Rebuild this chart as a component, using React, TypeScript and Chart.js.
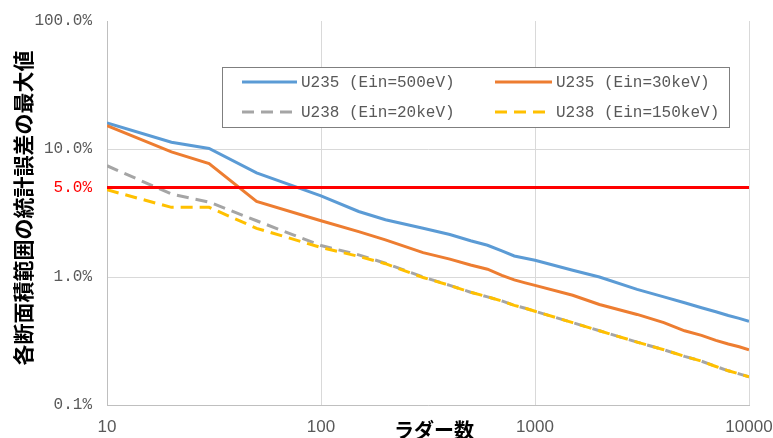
import React, { useEffect, useRef } from "react";
import { Chart, registerables } from "chart.js";

Chart.register(...registerables);

const ladderCounts = [10, 20, 30, 50, 100, 150, 200, 300, 400, 500, 600, 700, 800, 900, 1000, 1500, 2000, 3000, 4000, 5000, 6000, 7000, 8000, 9000, 10000];
const u235_500eV = [16.0, 11.3, 10.1, 6.5, 4.3, 3.25, 2.8, 2.4, 2.15, 1.92, 1.77, 1.6, 1.46, 1.4, 1.35, 1.13, 1.0, 0.8, 0.7, 0.63, 0.575, 0.535, 0.5, 0.475, 0.45];
const u235_30keV = [15.2, 9.5, 7.7, 3.9, 2.75, 2.26, 1.95, 1.55, 1.38, 1.24, 1.15, 1.03, 0.95, 0.9, 0.86, 0.72, 0.61, 0.51, 0.44, 0.38, 0.35, 0.32, 0.3, 0.285, 0.27];
const u238_20keV = [7.4, 4.45, 3.85, 2.75, 1.76, 1.49, 1.28, 1.0, 0.86, 0.76, 0.7, 0.65, 0.6, 0.57, 0.54, 0.44, 0.38, 0.31, 0.27, 0.24, 0.22, 0.2, 0.185, 0.175, 0.166];
const u238_150keV = [4.8, 3.5, 3.5, 2.4, 1.7, 1.45, 1.27, 0.99, 0.86, 0.76, 0.7, 0.65, 0.6, 0.57, 0.54, 0.44, 0.38, 0.31, 0.27, 0.24, 0.22, 0.2, 0.185, 0.175, 0.166];
const seriesNames = ["U235 (Ein=500eV)", "U235 (Ein=30keV)", "U238 (Ein=20keV)", "U238 (Ein=150keV)"];
const thresholdValue = 5;
const thresholdRange = [10, 10000];
const yTickValues = [0.1, 1, 5, 10, 100];
const xTickValues = [10, 100, 1000, 10000];
const yAxisTitle = "各断面積範囲の統計誤差の最大値";
const xAxisTitle = "ラダー数";

const seriesStyles = [
  { color: "#5b9bd5", dash: [] as number[] },
  { color: "#ed7d31", dash: [] as number[] },
  { color: "#a5a5a5", dash: [12, 7] },
  { color: "#ffc000", dash: [12, 7] },
];

const W = 773;
const H = 438;

const overlayPlugin = {
  id: "overlay",
  afterDraw(chart: any) {
    const ctx = chart.ctx as CanvasRenderingContext2D;
    ctx.save();
    // axis titles
    ctx.fillStyle = "#000000";
    ctx.font = 'bold 20px "Noto Sans CJK JP"';
    ctx.textAlign = "center";
    ctx.textBaseline = "middle";
    ctx.fillText(xAxisTitle, 434, 430);
    ctx.save();
    ctx.translate(23, 208);
    ctx.rotate(-Math.PI / 2);
    ctx.font = 'bold 21px "Noto Sans CJK JP"';
    ctx.fillText(yAxisTitle, 0, 0);
    ctx.restore();

    // legend
    const bx = 222, by = 67, bw = 508, bh = 61;
    ctx.fillStyle = "#ffffff";
    ctx.fillRect(bx, by, bw, bh);
    ctx.strokeStyle = "#7f7f7f";
    ctx.lineWidth = 1;
    ctx.strokeRect(bx + 0.5, by + 0.5, bw - 1, bh - 1);
    const cols = [242, 495];
    const rows = [82, 112];
    ctx.font = '16px "Liberation Mono"';
    ctx.textAlign = "left";
    ctx.textBaseline = "middle";
    chart.data.datasets.forEach((ds: any, i: number) => {
      if (i >= seriesNames.length) return;
      const c = i % 2;
      const r = Math.floor(i / 2);
      const x0 = cols[c];
      const x1 = c === 0 ? 297 : 552;
      const y = rows[r];
      ctx.strokeStyle = ds.borderColor;
      ctx.lineWidth = 3;
      ctx.setLineDash(ds.borderDash || []);
      ctx.beginPath();
      ctx.moveTo(x0, y);
      ctx.lineTo(x1, y);
      ctx.stroke();
      ctx.setLineDash([]);
      ctx.fillStyle = "#595959";
      ctx.fillText(ds.label, x1 + 4, y + 1);
    });
    ctx.restore();
  },
};

export default function App() {
  const canvasRef = useRef<HTMLCanvasElement | null>(null);

  useEffect(() => {
    const canvas = canvasRef.current;
    if (!canvas) return;
    const datasets: any[] = [u235_500eV, u235_30keV, u238_20keV, u238_150keV].map((vals, i) => ({
      label: seriesNames[i],
      data: ladderCounts.map((x, j) => ({ x, y: vals[j] })),
      borderColor: seriesStyles[i].color,
      backgroundColor: seriesStyles[i].color,
      borderDash: seriesStyles[i].dash,
      borderWidth: 3,
      pointRadius: 0,
      tension: 0,
      fill: false,
      order: 4 - i,
    }));
    datasets.push({
      label: "5%",
      data: thresholdRange.map((x) => ({ x, y: thresholdValue })),
      borderColor: "#ff0000",
      backgroundColor: "#ff0000",
      borderWidth: 3,
      pointRadius: 0,
      fill: false,
      order: 0,
    });

    const chart = new Chart(canvas, {
      type: "line",
      data: { datasets },
      options: {
        animation: false,
        responsive: false,
        devicePixelRatio: 1,
        layout: { padding: { left: 0, right: 24, top: 21, bottom: 0 } },
        plugins: { legend: { display: false }, tooltip: { enabled: false } },
        scales: {
          x: {
            type: "logarithmic",
            min: 10,
            max: 10000,
            afterBuildTicks: (s: any) => {
              s.ticks = xTickValues.map((v) => ({ value: v }));
            },
            afterFit: (s: any) => {
              s.height = H - 405;
              s.paddingLeft = 0;
              s.paddingRight = 0;
            },
            ticks: {
              autoSkip: false,
              maxRotation: 0,
              padding: 12,
              color: "#595959",
              font: { family: '"Liberation Sans"', size: 17 },
              callback: (v: any) => String(v),
            },
            grid: { color: "#d9d9d9", lineWidth: 1, drawTicks: false },
            border: { color: "#bfbfbf", width: 1 },
          },
          y: {
            type: "logarithmic",
            min: 0.1,
            max: 100,
            afterBuildTicks: (s: any) => {
              s.ticks = yTickValues.map((v) => ({ value: v }));
            },
            afterFit: (s: any) => {
              s.width = 107;
              s.paddingTop = 0;
              s.paddingBottom = 0;
            },
            ticks: {
              autoSkip: false,
              padding: 15,
              color: (c: any) => (c.tick && c.tick.value === thresholdValue ? "#ff0000" : "#595959"),
              font: { family: '"Liberation Mono"', size: 16 },
              callback: (v: any) => Number(v).toFixed(1) + "%",
            },
            grid: {
              color: (c: any) =>
                c.tick && (c.tick.value === thresholdValue || c.tick.value === 100) ? "rgba(0,0,0,0)" : "#d9d9d9",
              lineWidth: 1,
              drawTicks: false,
            },
            border: { color: "#bfbfbf", width: 1 },
          },
        },
      },
      plugins: [overlayPlugin],
    });
    return () => chart.destroy();
  }, []);

  return (
    <div style={{ position: "fixed", left: 0, top: 0, width: W, height: H, background: "#ffffff" }}>
      <canvas ref={canvasRef} width={W} height={H} style={{ display: "block", width: W, height: H }} />
    </div>
  );
}
